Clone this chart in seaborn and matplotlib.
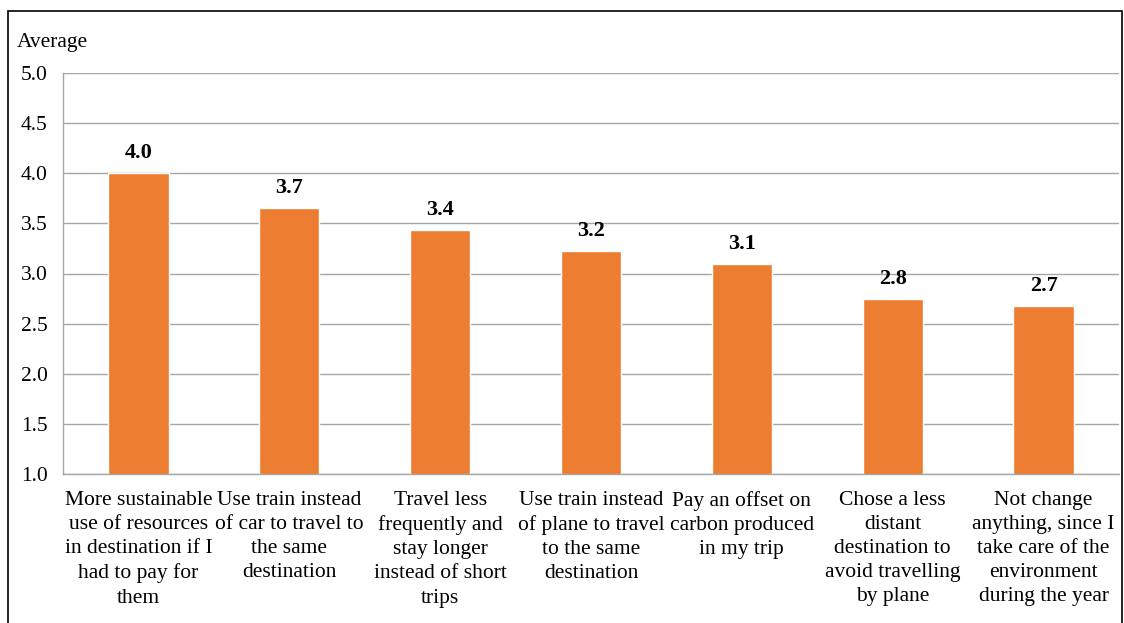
import matplotlib
matplotlib.use("Agg")
import matplotlib.pyplot as plt
import seaborn as sns
import pandas as pd
import numpy as np
from matplotlib.patches import Rectangle

categories = [
    "More sustainable\nuse of resources\nin destination if I\nhad to pay for\nthem",
    "Use train instead\nof car to travel to\nthe same\ndestination",
    "Travel less\nfrequently and\nstay longer\ninstead of short\ntrips",
    "Use train instead\nof plane to travel\nto the same\ndestination",
    "Pay an offset on\ncarbon produced\nin my trip",
    "Chose a less\ndistant\ndestination to\navoid travelling\nby plane",
    "Not change\nanything, since I\ntake care of the\nenvironment\nduring the year",
]
values = [4.0, 3.65, 3.43, 3.22, 3.09, 2.75, 2.68]
labels = ["4.0", "3.7", "3.4", "3.2", "3.1", "2.8", "2.7"]

sns.set_theme(style="white")
plt.rcParams["font.family"] = ["Liberation Serif", "DejaVu Serif"]
FS = 15.5

df = pd.DataFrame({"cat": categories, "val": values})

fig = plt.figure(figsize=(11.24, 6.23), dpi=100)
ax = fig.add_axes([63/1124, 1-474/623, (1119-63)/1124, (474-73)/623])

sns.barplot(data=df, x="cat", y="val", color="#ED7D31", width=0.4, ax=ax,
            saturation=1, bottom=0)
ax.set_ylim(1.0, 5.0)
ax.set_xlim(-0.5, len(categories) - 0.5)
yt = np.arange(1.0, 5.01, 0.5)
ax.set_yticks(yt)
ax.set_yticklabels([f"{v:.1f}" for v in yt], fontsize=FS, family="Liberation Serif")
ax.yaxis.grid(True, color="#A6A6A6", linewidth=1.0)
ax.set_axisbelow(True)
ax.set_xlabel("")
ax.set_ylabel("")
ax.set_xticks(range(len(categories)))
ax.set_xticklabels(categories, fontsize=FS, linespacing=1.37, family="Liberation Serif")
ax.tick_params(axis="x", length=0, pad=12)
ax.set_xticks(np.arange(-0.5, len(categories), 1.0), minor=True)
ax.tick_params(axis="x", which="minor", length=6, color="#A6A6A6", width=1, direction="out")
ax.tick_params(axis="y", length=6, color="#A6A6A6", width=1, direction="out", pad=5,
               labelcolor="black")
ax.tick_params(axis="x", labelcolor="black")
for s in ["top", "right"]:
    ax.spines[s].set_visible(False)
for s in ["left", "bottom"]:
    ax.spines[s].set_color("#A6A6A6")
    ax.spines[s].set_linewidth(1.0)

for p, lab in zip(ax.patches, labels):
    ax.text(p.get_x() + p.get_width() / 2, p.get_height() + 0.1, lab,
            ha="center", va="bottom", fontsize=16, fontweight="bold",
            family="Liberation Serif", color="black")

fig.text(17/1124, 1-43/623, "Average", fontsize=FS, ha="left", va="center",
         family="Liberation Serif", color="black")

fig.patches.append(Rectangle((8/1124, -0.05), (1122-8)/1124, 1-11/623 + 0.05,
                             transform=fig.transFigure, fill=False,
                             edgecolor="black", linewidth=1.2))

fig.savefig("out.png", dpi=100)
